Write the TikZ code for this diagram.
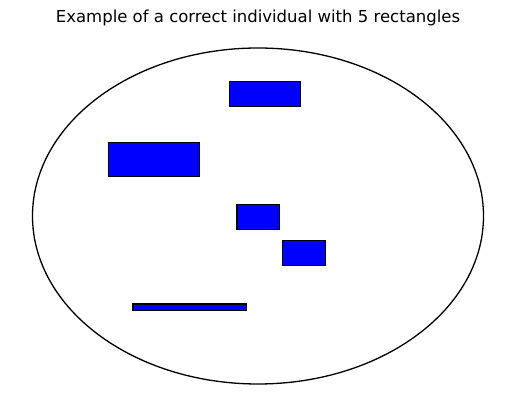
\documentclass[tikz,border=0pt]{standalone}
\usepackage{fontspec}
\setmainfont{DejaVu Sans}

\begin{document}
\begin{tikzpicture}[
  x=1pt,y=-1pt,
  line join=miter,
  rectbox/.style={draw=black,fill=blue,line width=1.1pt},
  boundary/.style={draw=black,line width=1.3pt}
]
\useasboundingbox (0,0) rectangle (515,411);
\node[font=\fontsize{16.5}{20}\selectfont] (title) at (258,18) {Example of a correct individual with 5 rectangles};

\draw[boundary] (258,216) ellipse [x radius=225.5,y radius=168];

\draw[rectbox] (229.3,81.3) rectangle (300.5,106.3);
\draw[rectbox] (108.3,142.3) rectangle (199.5,176.3);
\draw[rectbox] (237,204.3) rectangle (279.5,229.3);
\draw[rectbox] (282.3,240.3) rectangle (325.3,265.3);
\draw[rectbox] (133,304) rectangle (246.5,310.2);
\end{tikzpicture}
\end{document}
